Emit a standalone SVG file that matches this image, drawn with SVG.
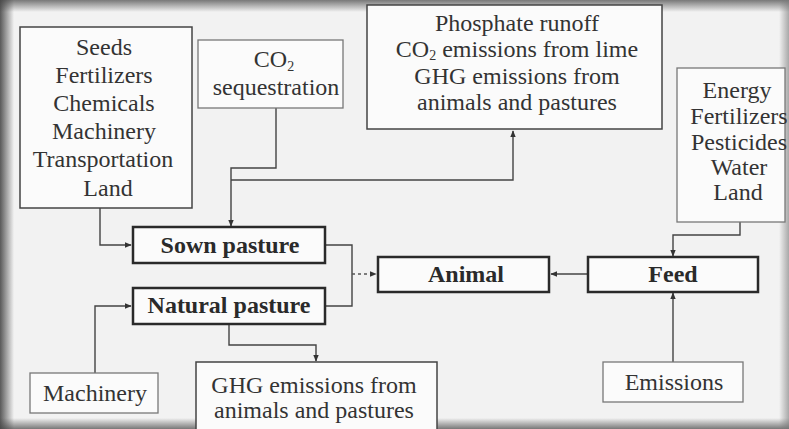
<svg xmlns="http://www.w3.org/2000/svg" width="789" height="429" viewBox="0 0 789 429">
<defs>
<style>
text{fill:#333;text-anchor:middle;font-size:24px}
.b{font-weight:bold;fill:#2a2a2a}
.box{fill:#fbfbfb;stroke:#444;stroke-width:1.5}
.lt{fill:#fbfbfb;stroke:#777;stroke-width:1.3}
.bb{fill:#fbfbfb;stroke:#2a2a2a;stroke-width:2.5}
.c{fill:none;stroke:#444;stroke-width:1.4}
.d{fill:none;stroke:#555;stroke-width:1.4;stroke-dasharray:3 3}
</style>
<marker id="ah" viewBox="0 0 10 10" refX="9" refY="5" markerWidth="7" markerHeight="7" orient="auto-start-reverse" markerUnits="userSpaceOnUse">
<path d="M0,1 L10,5 L0,9 z" fill="#333"/>
</marker>
<linearGradient id="gl" x1="0" y1="0" x2="1" y2="0"><stop offset="0" stop-color="#333" stop-opacity="0.8"/><stop offset="1" stop-color="#333" stop-opacity="0"/></linearGradient>
<linearGradient id="gt" x1="0" y1="0" x2="0" y2="1"><stop offset="0" stop-color="#444" stop-opacity="0.7"/><stop offset="1" stop-color="#444" stop-opacity="0"/></linearGradient>
<linearGradient id="gb" x1="0" y1="1" x2="0" y2="0"><stop offset="0" stop-color="#444" stop-opacity="0.7"/><stop offset="1" stop-color="#444" stop-opacity="0"/></linearGradient>
<linearGradient id="gr" x1="1" y1="0" x2="0" y2="0"><stop offset="0" stop-color="#777" stop-opacity="0.6"/><stop offset="1" stop-color="#777" stop-opacity="0"/></linearGradient>
</defs>
<rect x="0" y="0" width="789" height="429" fill="#f2f2f2"/>
<rect x="0" y="0" width="14" height="429" fill="url(#gl)"/>
<rect x="0" y="0" width="789" height="12" fill="url(#gt)"/>
<rect x="0" y="418" width="789" height="11" fill="url(#gb)"/>
<rect x="779" y="0" width="10" height="429" fill="url(#gr)"/>

<g id="connectors">
<path class="c" d="M100,208 V245 H131" marker-end="url(#ah)"/>
<path class="c" d="M276,108 V168 H231 V226" marker-end="url(#ah)"/>
<path class="c" d="M231,180 H513 V131" marker-end="url(#ah)"/>
<path class="c" d="M325,245 H352 V306 H325"/>
<path class="d" d="M352,274 H376" marker-end="url(#ah)"/>
<path class="c" d="M95,373 V306 H131" marker-end="url(#ah)"/>
<path class="c" d="M229,324 V345 H316 V361" marker-end="url(#ah)"/>
<path class="c" d="M588,274 H551" marker-end="url(#ah)"/>
<path class="c" d="M740,222 V235 H673 V256" marker-end="url(#ah)"/>
<path class="c" d="M673,362 V293" marker-end="url(#ah)"/>
</g>

<g id="inputs">
<rect class="box" x="20" y="27" width="172" height="181"/>
<text font-family="Liberation Serif" x="104" y="55">Seeds</text>
<text font-family="Liberation Serif" x="104" y="83">Fertilizers</text>
<text font-family="Liberation Serif" x="104" y="111">Chemicals</text>
<text font-family="Liberation Serif" x="104" y="139">Machinery</text>
<text font-family="Liberation Serif" x="103" y="167">Transportation</text>
<text font-family="Liberation Serif" x="108" y="196">Land</text>
</g>

<g id="co2-sequestration">
<rect class="lt" x="198" y="40" width="145" height="68"/>
<text font-family="Liberation Serif" x="274" y="67">CO<tspan font-size="14" dy="4">2</tspan></text>
<text font-family="Liberation Serif" x="276" y="95">sequestration</text>
</g>

<g id="emissions-top">
<rect class="box" x="367" y="5" width="295" height="124"/>
<text font-family="Liberation Serif" x="517" y="31">Phosphate runoff</text>
<text font-family="Liberation Serif" x="517" y="57">CO<tspan font-size="14" dy="3">2</tspan><tspan dy="-3"> emissions from lime</tspan></text>
<text font-family="Liberation Serif" x="517" y="84">GHG emissions from</text>
<text font-family="Liberation Serif" x="517" y="110">animals and pastures</text>
</g>

<g id="feed-inputs">
<rect class="lt" x="677" y="68" width="108" height="154"/>
<text font-family="Liberation Serif" x="737" y="98">Energy</text>
<text font-family="Liberation Serif" x="739" y="124">Fertilizers</text>
<text font-family="Liberation Serif" x="739" y="150">Pesticides</text>
<text font-family="Liberation Serif" x="739" y="175">Water</text>
<text font-family="Liberation Serif" x="738" y="200">Land</text>
</g>

<g id="sown-pasture">
<rect class="bb" x="133" y="227" width="192" height="36"/>
<text class="b" font-family="Liberation Serif" x="230" y="253">Sown pasture</text>
</g>

<g id="natural-pasture">
<rect class="bb" x="133" y="288" width="192" height="36"/>
<text class="b" font-family="Liberation Serif" x="229" y="313">Natural pasture</text>
</g>

<g id="animal">
<rect class="bb" x="378" y="257" width="171" height="35"/>
<text class="b" font-family="Liberation Serif" x="466" y="282">Animal</text>
</g>

<g id="feed">
<rect class="bb" x="588" y="257" width="170" height="35"/>
<text class="b" font-family="Liberation Serif" x="673" y="282">Feed</text>
</g>

<g id="machinery">
<rect class="lt" x="30" y="373" width="128" height="40"/>
<text font-family="Liberation Serif" x="95" y="401">Machinery</text>
</g>

<g id="ghg-bottom">
<rect class="box" x="196" y="362" width="241" height="70"/>
<text font-family="Liberation Serif" x="314" y="393">GHG emissions from</text>
<text font-family="Liberation Serif" x="314" y="418">animals and pastures</text>
</g>

<g id="emissions">
<rect class="lt" x="603" y="362" width="140" height="40"/>
<text font-family="Liberation Serif" x="674" y="390">Emissions</text>
</g>
</svg>
